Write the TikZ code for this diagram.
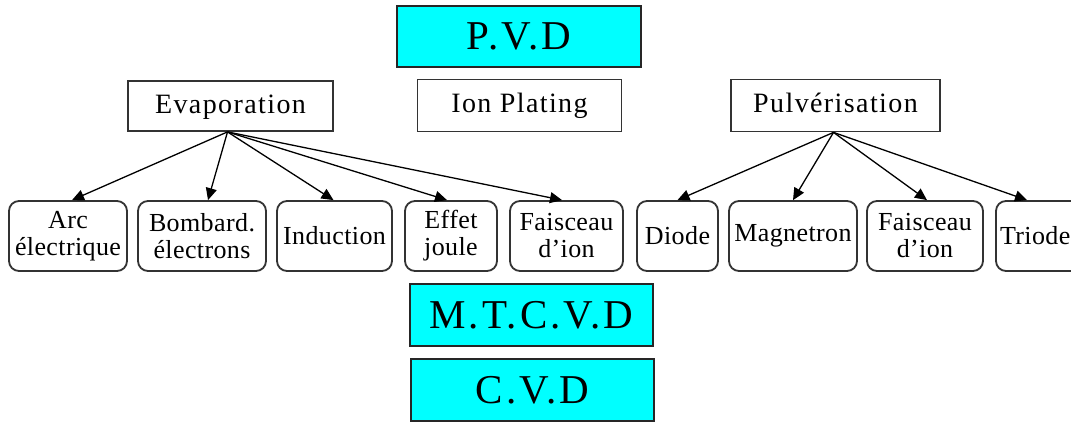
\documentclass[tikz,border=0pt]{standalone}
\usepackage{fontspec}
\setmainfont{Liberation Serif}
\usetikzlibrary{arrows.meta}
\definecolor{aqua}{RGB}{0,255,255}
\begin{document}
\begin{tikzpicture}[x=1pt,y=-1pt,
  big/.style={draw=black!85,line width=1.8pt,fill=aqua,inner sep=0pt,font=\fontsize{41}{44}\selectfont\addfontfeature{LetterSpace=7}},
  mid/.style={draw=black!80,line width=1.8pt,fill=white,inner sep=0pt,text height=20pt,text depth=6pt,font=\fontsize{28}{30}\selectfont\addfontfeature{LetterSpace=5}},
  leaf/.style={draw=black!80,line width=1.8pt,rounded corners=10pt,fill=white,inner sep=0pt,minimum height=70pt,align=center,font=\fontsize{26}{27}\selectfont\addfontfeature{LetterSpace=1.5}},
  arr/.style={line width=1.3pt,-{Triangle[length=12pt,width=11pt]}}]
\useasboundingbox (0,0) rectangle (1071,421);
\node[big,minimum width=244pt,minimum height=61pt] (pvd) at (519,36.5) {P.V.D};
\node[mid,minimum width=205pt,minimum height=50pt] (evap) at (230.5,106) {Evaporation};
\node[mid,minimum width=204pt,minimum height=52pt] (ion) at (519.5,105.5) {Ion Plating};
\node[mid,minimum width=209pt,minimum height=52pt] (pulv) at (835.5,105.5) {Pulvérisation};
\node[leaf,minimum width=118pt] (arc) at (68,236) {Arc\\électrique};
\node[leaf,minimum width=128pt] (bomb) at (202,236) {Bombard.\\électrons};
\node[leaf,minimum width=115pt] (ind) at (334.5,236) {Induction};
\node[leaf,minimum width=92pt] (effet) at (451,236) {Effet\\joule};
\node[leaf,minimum width=113pt] (fais) at (566.5,236) {Faisceau\\d'ion};
\node[leaf,minimum width=81pt] (diode) at (677.5,236) {Diode};
\node[leaf,minimum width=128pt] (magn) at (793,236) {Magnetron};
\node[leaf,minimum width=116pt] (fais2) at (925,236) {Faisceau\\d'ion};
\node[leaf,minimum width=86pt,text width=80pt,align=left] (triode) at (1039,236) {\hspace*{1pt}Triode};
\node[big,minimum width=243pt,minimum height=62pt] (mtcvd) at (531.5,315) {M.T.C.V.D};
\node[big,minimum width=243pt,minimum height=62pt] (cvd) at (532.5,390) {C.V.D};
\coordinate (es) at ([xshift=-3pt]evap.south);
\coordinate (ps) at ([xshift=-2pt]pulv.south);
\draw[arr] (es) -- ([xshift=4pt]arc.north);
\draw[arr] (es) -- ([xshift=6pt]bomb.north);
\draw[arr] (es) -- ([xshift=-1pt]ind.north);
\draw[arr] (es) -- ([xshift=-4pt]effet.north);
\draw[arr] (es) -- ([xshift=-4.5pt]fais.north);
\draw[arr] (ps) -- (diode.north);
\draw[arr] (ps) -- (magn.north);
\draw[arr] (ps) -- ([xshift=2pt]fais2.north);
\draw[arr] (ps) -- ([xshift=-12pt]triode.north);
\end{tikzpicture}
\end{document}
